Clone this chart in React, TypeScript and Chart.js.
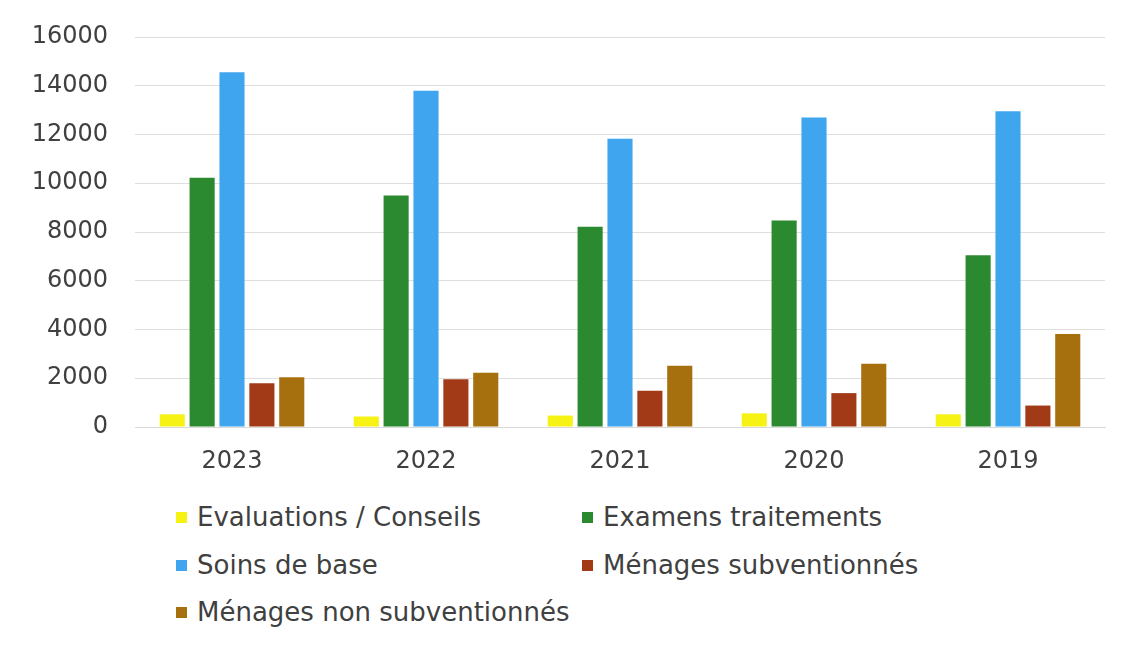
import React, { useEffect, useRef } from "react";
import { Chart, registerables } from "chart.js";

Chart.register(...registerables);

const categories = ["2023", "2022", "2021", "2020", "2019"];
const evaluations = [520, 430, 470, 560, 520];
const examens = [10230, 9500, 8220, 8470, 7050];
const soins = [14550, 13790, 11830, 12700, 12950];
const menagesSub = [1800, 1960, 1490, 1390, 880];
const menagesNonSub = [2040, 2230, 2510, 2590, 3820];

const seriesNames = [
  "Evaluations / Conseils",
  "Examens traitements",
  "Soins de base",
  "Ménages subventionnés",
  "Ménages non subventionnés",
];
const colors = ["#F5F214", "#2B8A30", "#3FA5EE", "#A23A17", "#A6700F"];

const FONT = "'DejaVu Sans', 'Liberation Sans', Arial, sans-serif";
const TEXT = "#404040";

export default function App() {
  const ref = useRef<HTMLCanvasElement | null>(null);

  useEffect(() => {
    if (!ref.current) return;
    const allData = [evaluations, examens, soins, menagesSub, menagesNonSub];
    const chart = new Chart(ref.current, {
      type: "bar",
      data: {
        labels: categories,
        datasets: allData.map((d, i) => ({
          label: seriesNames[i],
          data: d,
          backgroundColor: colors[i],
          borderWidth: 0,
          barPercentage: 0.84,
          categoryPercentage: 0.77,
        })),
      },
      options: {
        responsive: false,
        animation: false,
        devicePixelRatio: 1,
        layout: { padding: { left: 0, right: 24, top: 37, bottom: 0 } },
        plugins: {
          legend: { display: false },
          tooltip: { enabled: false },
          title: { display: false },
        },
        scales: {
          x: {
            grid: { display: false, drawTicks: false },
            border: { display: true, color: "#d9d9d9", width: 1 },
            ticks: {
              color: TEXT,
              font: { family: FONT, size: 24 },
              padding: 20,
            },
            afterFit: (s: any) => {
              s.height = 63;
            },
          },
          y: {
            min: 0,
            max: 16000,
            grid: { color: "#dedede", drawTicks: false, lineWidth: 1 },
            border: { display: false },
            ticks: {
              stepSize: 2000,
              color: TEXT,
              font: { family: FONT, size: 24, lineHeight: 0.6 },
              padding: 27,
              callback: (v: any) => String(v),
            },
            afterFit: (s: any) => {
              s.width = 135;
            },
          },
        },
      },
    });
    return () => chart.destroy();
  }, []);

  const legendItems = [
    { i: 0, x: 176, y: 517 },
    { i: 1, x: 582, y: 517 },
    { i: 2, x: 176, y: 565 },
    { i: 3, x: 582, y: 565 },
    { i: 4, x: 176, y: 612 },
  ];

  return (
    <div
      style={{
        position: "fixed",
        left: 0,
        top: 0,
        width: 1129,
        height: 646,
        background: "#fff",
        overflow: "hidden",
      }}
    >
      <canvas
        ref={ref}
        width={1129}
        height={490}
        style={{ position: "absolute", left: 0, top: 0, width: 1129, height: 490 }}
      />
      {legendItems.map((it) => (
        <div
          key={it.i}
          style={{
            position: "absolute",
            left: it.x,
            top: it.y - 16,
            height: 32,
            display: "flex",
            alignItems: "center",
            fontFamily: FONT,
            fontSize: 26,
            color: TEXT,
            whiteSpace: "nowrap",
          }}
        >
          <span
            style={{
              display: "inline-block",
              width: 11,
              height: 11,
              background: colors[it.i],
              marginRight: 10,
            }}
          />
          <span>{seriesNames[it.i]}</span>
        </div>
      ))}
    </div>
  );
}
